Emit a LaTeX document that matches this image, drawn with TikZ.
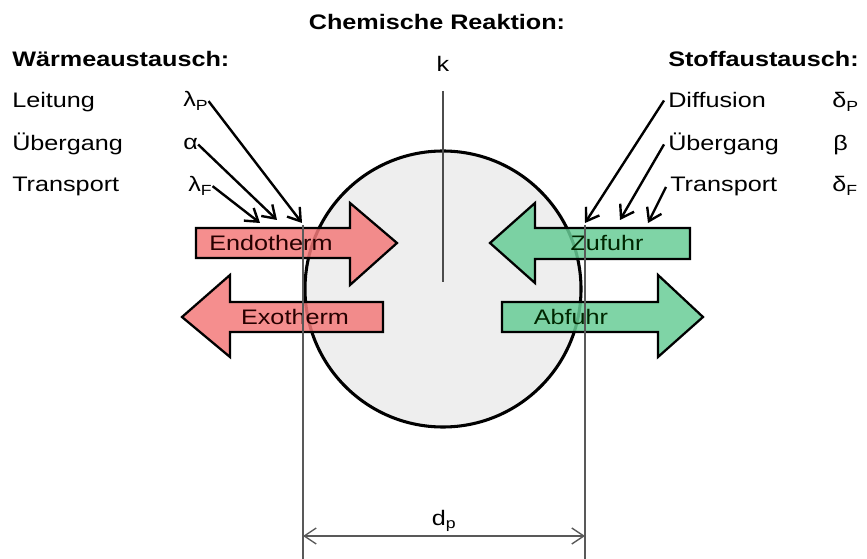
\documentclass[tikz,border=0pt]{standalone}
\usepackage{fontspec}
\setmainfont{Liberation Sans}[FakeStretch=1.2]
\usetikzlibrary{arrows.meta}

\definecolor{heatred}{RGB}{243,122,122}
\definecolor{massgreen}{RGB}{104,204,150}
\definecolor{grain}{RGB}{238,238,238}

\begin{document}
\begin{tikzpicture}[x=0.75pt,y=-0.75pt,
 lbl/.style={font=\fontsize{15.75}{18}\selectfont,inner sep=0pt,anchor=base west},
 hdr/.style={lbl,font=\fontsize{15.75}{18}\selectfont\bfseries},
 flow/.style={draw=black,line width=1.7pt,fill opacity=0.85,line join=miter},
 flowtext/.style={font=\fontsize{15.75}{18}\selectfont,text=black!85!red,inner sep=0pt},
 feed/.style={-{Straight Barb[length=9pt,width=12pt,line width=1.8pt]},line width=1.8pt},
 dim/.style={line width=1pt,draw=black!65}]
\useasboundingbox (0,0) rectangle (867,559);

% particle
\node[circle,draw,line width=2.3pt,fill=grain,minimum size=207pt,inner sep=0pt] (particle) at (443,289) {};

% headings and labels
\node[hdr,anchor=base] (title) at (437,30) {Chemische Reaktion:};
\node[hdr] (heat) at (12,67) {Wärmeaustausch:};
\node[lbl] (leit) at (12,108) {Leitung};
\node[lbl] (uebh) at (12,151) {Übergang};
\node[lbl] (trah) at (12,192) {Transport};
\node[lbl] (lamP) at (183,107) {λ\textsubscript{P}};
\node[lbl] (alpha) at (183,150) {α};
\node[lbl] (lamF) at (188,192) {λ\textsubscript{F}};

\node[hdr] (mass) at (668,67) {Stoffaustausch:};
\node[lbl] (diff) at (668,108) {Diffusion};
\node[lbl] (uebm) at (668,151) {Übergang};
\node[lbl] (tram) at (670,192) {Transport};
\node[lbl] (delP) at (832,108) {δ\textsubscript{P}};
\node[lbl] (beta) at (833,151) {β};
\node[lbl] (delF) at (832,192) {δ\textsubscript{F}};

\node[lbl,anchor=base] (k) at (443,72) {k};
\draw[dim,draw=black!70] ([yshift=-14pt]k.south) -- ([yshift=5pt]particle.center);

% block arrows
\draw[flow,fill=heatred] (196,228) -- (350,228) -- (350,203) -- (397,243) -- (350,285) -- (350,258) -- (196,258) -- cycle;
\draw[flow,fill=heatred] (383,302) -- (230,302) -- (230,275) -- (182,317) -- (230,357) -- (230,332) -- (383,332) -- cycle;
\draw[flow,fill=massgreen] (690,228) -- (535,228) -- (535,203) -- (490,243) -- (535,283) -- (535,259) -- (690,259) -- cycle;
\draw[flow,fill=massgreen] (502,302) -- (658,302) -- (658,275) -- (703,317) -- (658,357) -- (658,332) -- (502,332) -- cycle;
\node[flowtext] (endo) at (271,243) {Endotherm};
\node[flowtext] (exo) at (295,317) {Exotherm};
\node[flowtext,text=black!85!green] (zu) at (607,243) {Zufuhr};
\node[flowtext,text=black!85!green] (ab) at (571,317) {Abfuhr};

% exchange arrows
\coordinate (hP) at (302,223);
\coordinate (hA) at (277,220);
\coordinate (hF) at (260,223);
\coordinate (mP) at (585,223);
\coordinate (mB) at (620,220);
\coordinate (mF) at (648,223);
\foreach \a/\b in {lamP/hP,alpha/hA,lamF/hF}
 \draw[feed] (\a.east) -- (\b);
\foreach \a/\b in {diff/mP,uebm/mB,tram/mF}
 \draw[feed] ([xshift=-3pt]\a.west) -- (\b);

% diameter
\coordinate (dlt) at (303,225);
\coordinate (dlb) at (303,559);
\coordinate (drt) at (585,225);
\coordinate (drb) at (585,559);
\draw[dim] (dlt) -- (dlb);
\draw[dim] (drt) -- (drb);
\draw[dim,{Straight Barb[length=9pt,width=12pt]}-{Straight Barb[length=9pt,width=12pt]}] (dlb |- 0,536) -- node[lbl,anchor=base,yshift=8pt] (dp) {d\textsubscript{p}} (drb |- 0,536);
\end{tikzpicture}
\end{document}
